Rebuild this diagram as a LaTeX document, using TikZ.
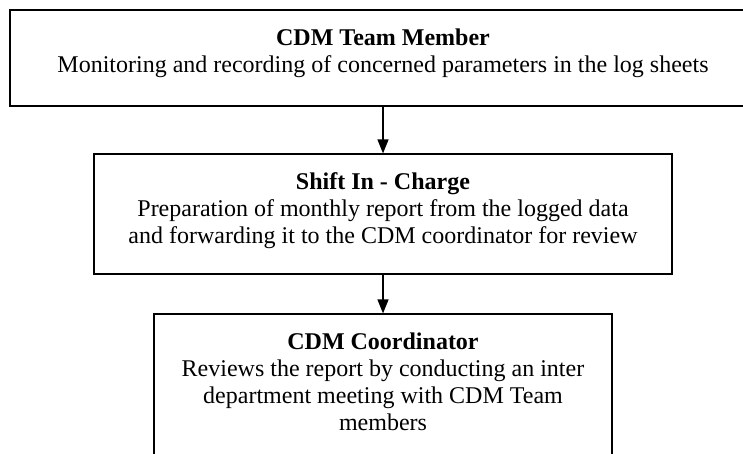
\documentclass[tikz,border=0pt]{standalone}
\usepackage{fontspec}
\setmainfont{Liberation Serif}
\usetikzlibrary{arrows.meta}
\begin{document}
\begin{tikzpicture}[>={Triangle[length=14pt,width=11pt]}, line width=1.2pt, x=1pt, y=-1pt,
  box/.style={draw, inner sep=0pt},
  boxtext/.style={font=\fontsize{24}{27}\selectfont, align=center, inner sep=0pt, anchor=north}]
\useasboundingbox (0,0) rectangle (743,453);
\clip (0,0) rectangle (743,453);

\node[box, minimum width=746pt, minimum height=96pt] (member) at (383,58){};
\node[box, minimum width=578pt, minimum height=120pt] (shift) at (383,214){};
\node[box, minimum width=458pt, minimum height=148pt] (coord) at (383,388){};

\node[boxtext] (membertxt) at (383,28){\textbf{CDM Team Member}\\Monitoring and recording of concerned parameters in the log sheets};
\node[boxtext] (shifttxt) at (383,172){\textbf{Shift In - Charge}\\Preparation of monthly report from the logged data\\and forwarding it to the CDM coordinator for review};
\node[boxtext] (coordtxt) at (383,332){\textbf{CDM Coordinator}\\Reviews the report by conducting an inter\\department meeting with CDM Team\\members};

\draw[->](member.south)--(shift.north);
\draw[->](shift.south)--(coord.north);

\end{tikzpicture}
\end{document}
